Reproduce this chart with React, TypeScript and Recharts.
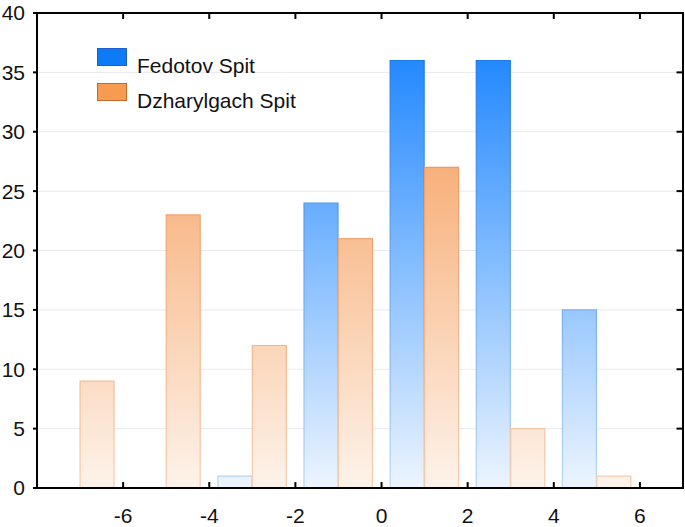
import React from 'react';
import { ComposedChart, Bar, XAxis, YAxis, CartesianGrid, Legend, ReferenceLine, ReferenceArea } from 'recharts';

// bin centres (class midpoints) of the grouped histogram
const binCenters = [-7, -5, -3, -1, 1, 3, 5];
const fedotov = [0, 0, 1, 24, 36, 36, 15];
const dzharylgach = [9, 23, 12, 21, 27, 5, 1];
const xTicks = [-6, -4, -2, 0, 2, 4, 6];
const yTicks = [0, 5, 10, 15, 20, 25, 30, 35, 40];
const xDomain = [-8, 7];
const yDomain = [0, 40];
const seriesNames = ['Fedotov Spit', 'Dzharylgach Spit'];
const halfBar = 0.4;
const tickLenY = 0.5; // inward tick length in y units
const tickLenX = 0.15; // inward tick length in x units

type Row = { x: number; fed?: number; dzh?: number };
const rows: Row[] = [];
binCenters.forEach((c, i) => {
  rows.push({ x: c - halfBar, fed: fedotov[i] });
  rows.push({ x: c + halfBar, dzh: dzharylgach[i] });
});

const FONT = "'Liberation Sans', Arial, sans-serif";
const black = { stroke: '#000', strokeWidth: 2 };

const swatch = (top: number, fill: string, border: string): React.CSSProperties => ({
  position: 'absolute',
  left: 97,
  top,
  width: 30,
  height: 18,
  boxSizing: 'border-box',
  background: fill,
  border: `1px solid ${border}`,
});
const label = (top: number): React.CSSProperties => ({
  position: 'absolute',
  left: 137,
  top,
  fontSize: 21,
  lineHeight: '24px',
  fontFamily: FONT,
  color: '#111',
  whiteSpace: 'nowrap',
});

const LegendContent = () => (
  <div style={{ position: 'relative', width: 300, height: 120 }}>
    <div style={swatch(48, '#0d7bf6', '#1c5fc6')} />
    <div style={label(54)}>{seriesNames[0]}</div>
    <div style={swatch(83, '#f79a52', '#c4682c')} />
    <div style={label(89)}>{seriesNames[1]}</div>
  </div>
);

export default function App() {
  return (
    <div style={{ position: 'absolute', left: 0, top: 0, width: 685, height: 527, fontFamily: FONT }}>
      <ComposedChart
        width={685}
        height={527}
        data={rows}
        margin={{ top: 13, right: 2, bottom: 0, left: 0 }}
      >
        <defs>
          <linearGradient id="gBlue" gradientUnits="userSpaceOnUse" x1="0" y1="13" x2="0" y2="488">
            <stop offset="0" stopColor="#0e7dff" />
            <stop offset="1" stopColor="#edf5fe" />
          </linearGradient>
          <linearGradient id="sBlue" gradientUnits="userSpaceOnUse" x1="0" y1="13" x2="0" y2="488">
            <stop offset="0" stopColor="#0a6ee6" />
            <stop offset="1" stopColor="#b9d6f6" />
          </linearGradient>
          <linearGradient id="gOrange" gradientUnits="userSpaceOnUse" x1="0" y1="13" x2="0" y2="488">
            <stop offset="0" stopColor="#f59046" />
            <stop offset="1" stopColor="#fdf3ea" />
          </linearGradient>
          <linearGradient id="sOrange" gradientUnits="userSpaceOnUse" x1="0" y1="13" x2="0" y2="488">
            <stop offset="0" stopColor="#ec8340" />
            <stop offset="1" stopColor="#f6cdb0" />
          </linearGradient>
        </defs>
        <CartesianGrid vertical={false} stroke="#e9e9ef" />
        <XAxis
          dataKey="x"
          type="number"
          domain={xDomain}
          ticks={xTicks}
          allowDataOverflow
          height={39}
          tickLine={false}
          tickSize={0}
          tickMargin={20}
          axisLine={black}
          tick={{ fontSize: 21, fill: '#111', fontFamily: FONT }}
          interval={0}
        />
        <XAxis
          xAxisId="top"
          orientation="top"
          mirror
          dataKey="x"
          type="number"
          domain={xDomain}
          ticks={xTicks}
          allowDataOverflow
          tickSize={6}
          tickLine={black}
          axisLine={black}
          tickFormatter={() => ''}
          interval={0}
        />
        <YAxis
          type="number"
          domain={yDomain}
          ticks={yTicks}
          allowDataOverflow
          width={37}
          tickSize={4}
          tickMargin={8}
          tickLine={black}
          axisLine={black}
          tick={{ fontSize: 21, fill: '#111', fontFamily: FONT }}
          interval={0}
        />
        <ReferenceArea
          x1={xDomain[0]}
          x2={xDomain[1]}
          y1={yDomain[0]}
          y2={yDomain[1]}
          fill="none"
          fillOpacity={0}
          stroke="#000"
          strokeWidth={2}
          ifOverflow="visible"
        />
        <ReferenceLine x={xDomain[1]} stroke="#000" strokeWidth={2} ifOverflow="visible" />
        <ReferenceLine y={yDomain[1]} stroke="#000" strokeWidth={2} ifOverflow="visible" />
        {xTicks.map((t) => (
          <ReferenceLine
            key={'bt' + t}
            segment={[{ x: t, y: yDomain[0] }, { x: t, y: yDomain[0] + tickLenY }]}
            stroke="#000"
            strokeWidth={2}
            ifOverflow="visible"
          />
        ))}
        {yTicks.map((t) => (
          <ReferenceLine
            key={'rt' + t}
            segment={[{ x: xDomain[1], y: t }, { x: xDomain[1] - tickLenX, y: t }]}
            stroke="#000"
            strokeWidth={2}
            ifOverflow="visible"
          />
        ))}
        <Legend
          layout="vertical"
          align="center"
          verticalAlign="middle"
          content={() => <LegendContent />}
          wrapperStyle={{ position: 'absolute', left: 0, top: 0, width: 300, height: 120 }}
        />
        <Bar
          dataKey="fed"
          name={seriesNames[0]}
          stackId="h"
          barSize={34}
          fill="url(#gBlue)"
          stroke="url(#sBlue)"
          strokeWidth={1.2}
          isAnimationActive={false}
        />
        <Bar
          dataKey="dzh"
          name={seriesNames[1]}
          stackId="h"
          barSize={34}
          fill="url(#gOrange)"
          stroke="url(#sOrange)"
          strokeWidth={1.2}
          isAnimationActive={false}
        />
      </ComposedChart>
      {/* plot frame (box around the plotting area) */}
      <div
        style={{
          position: 'absolute',
          left: 36,
          top: 12,
          width: 648,
          height: 477,
          boxSizing: 'border-box',
          border: '2px solid #000',
          pointerEvents: 'none',
        }}
      />
    </div>
  );
}
